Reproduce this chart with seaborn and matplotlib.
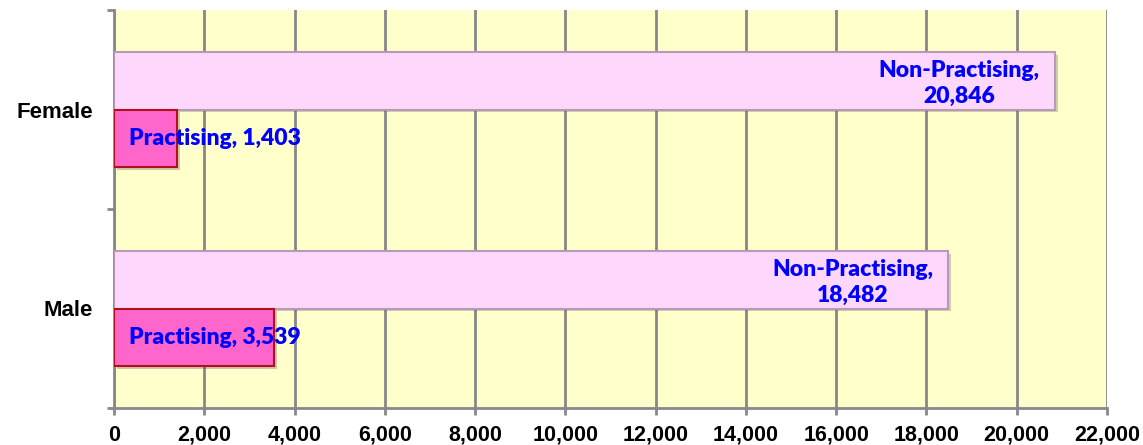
import pandas as pd
import numpy as np
import matplotlib
matplotlib.use('Agg')
import matplotlib.pyplot as plt
import matplotlib.patheffects as pe
from matplotlib.ticker import FuncFormatter, FixedLocator
import seaborn as sns

genders = ['Female', 'Female', 'Male', 'Male']
status = ['Non-Practising', 'Practising', 'Non-Practising', 'Practising']
counts = [20846, 1403, 18482, 3539]
x_ticks = list(range(0, 22001, 2000))

df = pd.DataFrame({'gender': genders, 'status': status, 'count': counts})

sns.set_style('white')
plt.rcParams['font.family'] = ['Liberation Sans', 'DejaVu Sans']

fig = plt.figure(figsize=(11.43, 4.45), dpi=100)
ax = fig.add_axes([114 / 1143, 1 - 408 / 445, (1107 - 114) / 1143, (408 - 10) / 445])
ax.set_facecolor('#FFFFCC')

pal = {'Non-Practising': '#FDD8FC', 'Practising': '#FF66CC'}
edges = {'Non-Practising': '#B89AB8', 'Practising': '#B0101A'}

sns.barplot(data=df, x='count', y='gender', hue='status',
            hue_order=['Non-Practising', 'Practising'], order=['Female', 'Male'],
            palette=pal, saturation=1, width=0.58, legend=False, ax=ax, zorder=3)

for cont, st in zip(ax.containers, ['Non-Practising', 'Practising']):
    for bar in cont:
        bar.set_edgecolor(edges[st])
        bar.set_linewidth(1.5)
        bar.set_path_effects([pe.SimplePatchShadow(offset=(2, -2), alpha=0.25), pe.Normal()])

# labels
lab_font = dict(color='#0000FF', fontsize=16.5, fontweight='heavy',
                family=['Lato', 'DejaVu Sans'], zorder=5)
for cont, st in zip(ax.containers, ['Non-Practising', 'Practising']):
    for bar, val in zip(cont, cont.datavalues):
        yc = bar.get_y() + bar.get_height() / 2
        if st == 'Non-Practising':
            ax.annotate(f'{st},\n{int(val):,}', xy=(val, yc), xytext=(-69, -2),
                        textcoords='offset points', ha='center', va='center',
                        linespacing=1.27, **lab_font)
        else:
            ax.annotate(f'{st}, {int(val):,}', xy=(0, yc), xytext=(11, 0),
                        textcoords='offset points', ha='left', va='center',
                        **lab_font)

ax.set_xlim(0, 22000)
ax.set_ylim(1.5, -0.5)
ax.set_xticks(x_ticks)
ax.xaxis.set_major_formatter(FuncFormatter(lambda v, p: f'{int(v):,}'))
ax.grid(axis='x', color='#888888', linewidth=2, zorder=0)
ax.set_axisbelow(True)

ax.yaxis.set_minor_locator(FixedLocator([-0.5, 0.5, 1.5]))
ax.tick_params(axis='y', which='major', length=0, pad=15, labelsize=16, labelcolor='black')
ax.tick_params(axis='y', which='minor', length=5, width=2, color='#888888', left=True)
ax.tick_params(axis='x', which='major', length=5, width=2, color='#888888', bottom=True,
               pad=7, labelsize=15.5, labelcolor='black')
for lab in ax.get_xticklabels() + ax.get_yticklabels():
    lab.set_fontweight('bold')

ax.set_xlabel('')
ax.set_ylabel('')
for s in ['top', 'right']:
    ax.spines[s].set_visible(False)
for s in ['left', 'bottom']:
    ax.spines[s].set_color('#888888')
    ax.spines[s].set_linewidth(2)

fig.savefig('out.png', dpi=100)
